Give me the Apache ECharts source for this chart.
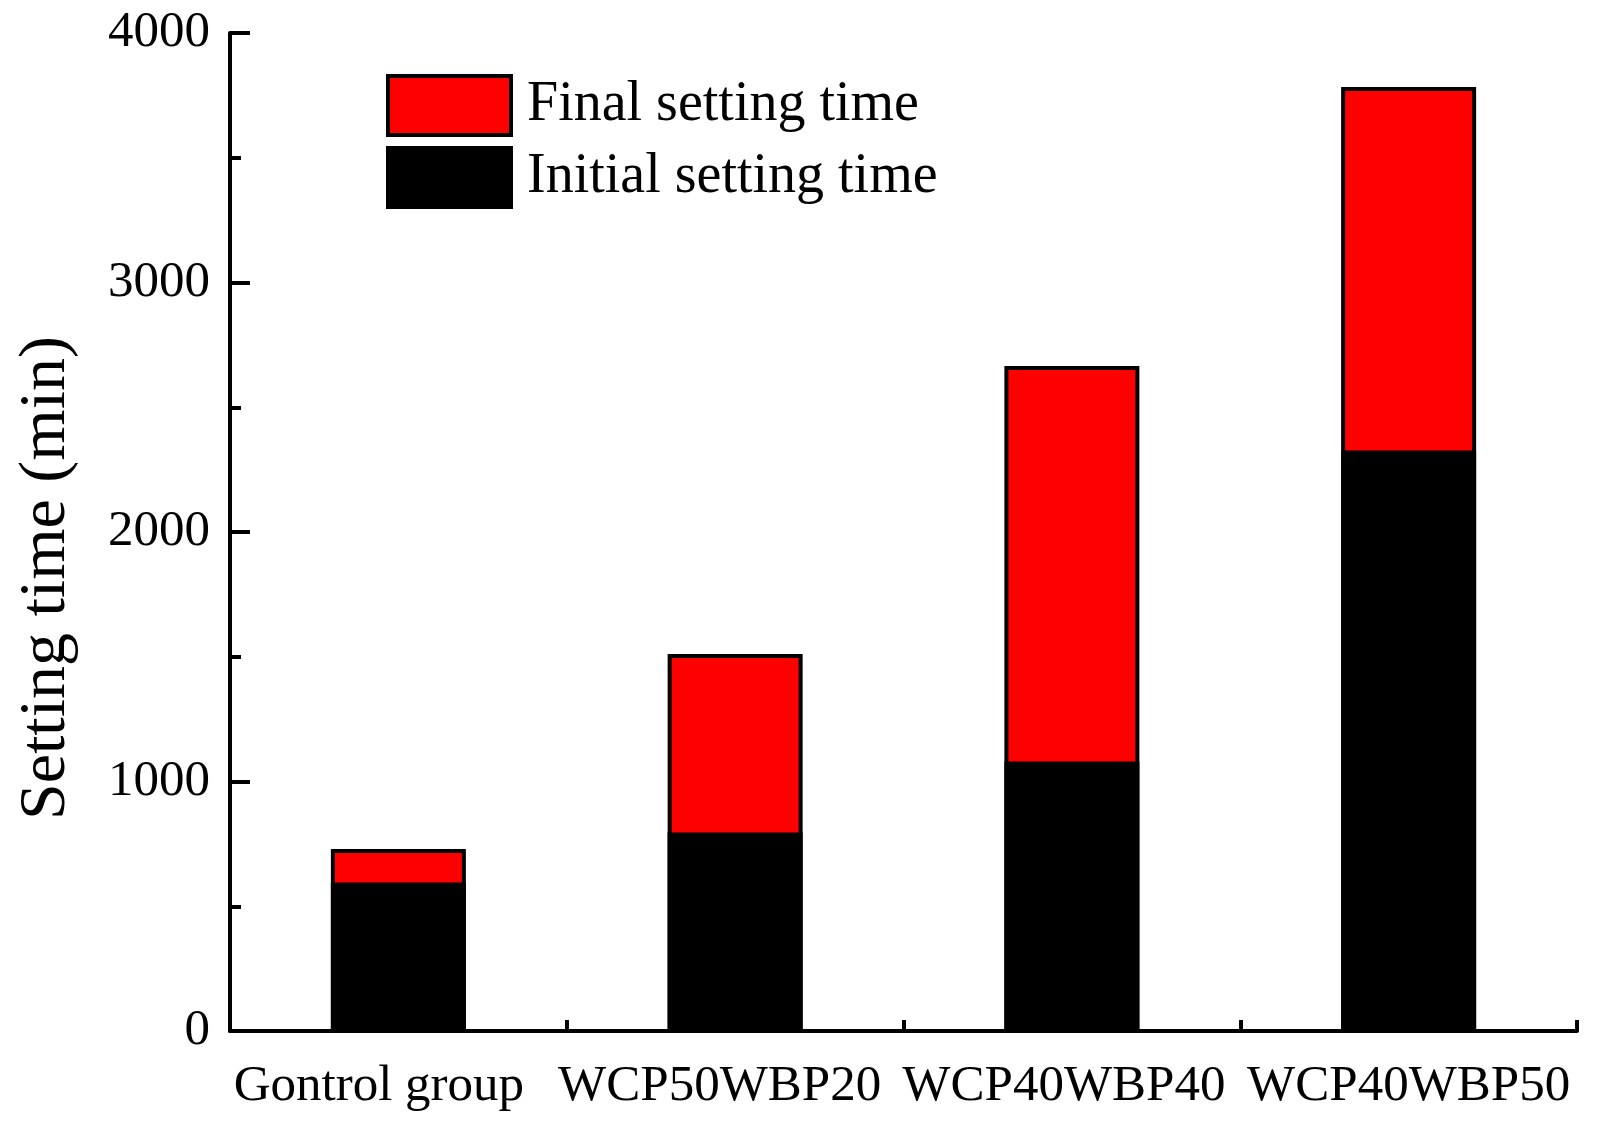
<!DOCTYPE html>
<html>
<head>
<meta charset="utf-8">
<script src="https://cdn.jsdelivr.net/npm/echarts@6/dist/echarts.min.js"></script>
<style>
html,body{margin:0;padding:0;background:#fff;}
#chart{width:1598px;height:1128px;}
</style>
</head>
<body>
<div id="chart"></div>
<script>
var categories = ['Gontrol group', 'WCP50WBP20', 'WCP40WBP40', 'WCP40WBP50'];
var finalTime = [729, 1511, 2665, 3784];
var initialTime = [595, 796, 1080, 2327];
var yTicks = [0, 1000, 2000, 3000, 4000];

// per-label horizontal nudge (right padding, px) to match the original label placement
var labelShift = [39, 31, 16, 0];

var FONT = '"Liberation Serif", "Times New Roman", serif';
var chart = echarts.init(document.getElementById('chart'));
chart.setOption({
  backgroundColor: '#fff',
  animation: false,
  textStyle: { fontFamily: FONT, color: '#000' },
  grid: { left: 230, top: 33, width: 1347, height: 998, containLabel: false },
  legend: {
    orient: 'vertical',
    left: 381,
    top: 69,
    itemWidth: 123,
    itemHeight: 59,
    itemGap: 9,
    icon: 'rect',
    itemStyle: { borderWidth: 4, borderColor: '#000' },
    textStyle: { fontFamily: FONT, fontSize: 56, lineHeight: 59, color: '#000', padding: [0, 0, 0, 11] },
    data: ['Final setting time', 'Initial setting time']
  },
  xAxis: {
    type: 'category',
    data: categories.map(function (c, i) {
      return { value: c, textStyle: { padding: [0, labelShift[i], 0, 0] } };
    }),
    boundaryGap: true,
    axisLine: { show: true, lineStyle: { color: '#000', width: 4 } },
    axisTick: { show: true, inside: true, length: 11, lineStyle: { color: '#000', width: 4 } },
    axisLabel: { fontFamily: FONT, fontSize: 51, color: '#000', margin: 30, interval: 0 },
    splitLine: { show: false }
  },
  yAxis: {
    type: 'value',
    min: yTicks[0],
    max: yTicks[yTicks.length - 1],
    interval: 1000,
    name: 'Setting time (min)',
    nameLocation: 'middle',
    nameGap: 150,
    nameTextStyle: { fontFamily: FONT, fontSize: 66, color: '#000', padding: [0, 92, 0, 0] },
    axisLine: { show: true, lineStyle: { color: '#000', width: 4 } },
    axisTick: { show: true, inside: true, length: 20, lineStyle: { color: '#000', width: 4 } },
    minorTick: { show: true, splitNumber: 2, length: 11, lineStyle: { color: '#000', width: 4 } },
    axisLabel: { fontFamily: FONT, fontSize: 51, color: '#000', margin: 20, formatter: function (v) { return String(v); } },
    splitLine: { show: false }
  },
  series: [
    {
      name: 'Final setting time',
      type: 'bar',
      data: finalTime,
      barWidth: 135,
      barGap: '-100%',
      itemStyle: { color: '#ff0000', borderColor: '#000', borderWidth: 4 }
    },
    {
      name: 'Initial setting time',
      type: 'bar',
      data: initialTime,
      barWidth: 135,
      barGap: '-100%',
      itemStyle: { color: '#000', borderColor: '#000', borderWidth: 4 }
    }
  ]
});
</script>
</body>
</html>
